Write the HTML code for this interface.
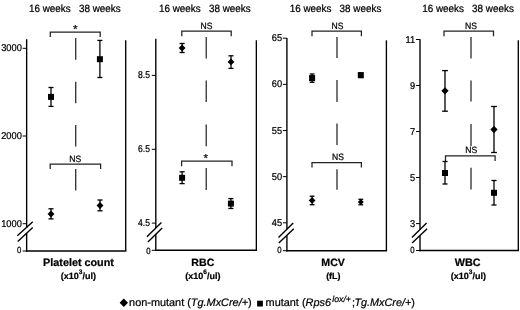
<!DOCTYPE html>
<html><head><meta charset="utf-8"><title>figure</title>
<style>
html,body{margin:0;padding:0;background:#fff;}
svg{display:block;font-family:"Liberation Sans", Arial, sans-serif;fill:#000;will-change:transform;}
text{stroke:#000;stroke-width:0.22px;text-rendering:geometricPrecision;white-space:pre;}
</style></head><body>
<svg width="520" height="310" viewBox="0 0 520 310">
<rect x="0" y="0" width="520" height="310" fill="#fff"/>
<line x1="26.65" y1="39.2" x2="26.65" y2="227.28506493506492" stroke="#000" stroke-width="1.38" />
<line x1="26.65" y1="233.13400000000001" x2="26.65" y2="251.69" stroke="#000" stroke-width="1.38" />
<line x1="25.959999999999997" y1="251.0" x2="126.37" y2="251.0" stroke="#000" stroke-width="1.38" />
<line x1="125.7" y1="40.3" x2="125.7" y2="251.0" stroke="#000" stroke-width="1.35" />
<line x1="22.65" y1="48.3" x2="26.65" y2="48.3" stroke="#000" stroke-width="1.0" />
<text transform="translate(21.85,51.35) scale(1,1.06)" font-size="9.3" text-anchor="end" font-weight="normal" font-style="normal" >3000</text>
<line x1="22.65" y1="136" x2="26.65" y2="136" stroke="#000" stroke-width="1.0" />
<text transform="translate(21.85,139.05) scale(1,1.06)" font-size="9.3" text-anchor="end" font-weight="normal" font-style="normal" >2000</text>
<line x1="22.65" y1="223.7" x2="26.65" y2="223.7" stroke="#000" stroke-width="1.0" />
<text transform="translate(21.85,226.75) scale(1,1.06)" font-size="9.3" text-anchor="end" font-weight="normal" font-style="normal" >1000</text>
<line x1="22.65" y1="251.0" x2="26.65" y2="251.0" stroke="#000" stroke-width="1.0" />
<text transform="translate(21.35,253.0) scale(1,1.15)" font-size="7.8" text-anchor="end" font-weight="normal" font-style="normal" >0</text>
<line x1="17.349999999999998" y1="235.8" x2="32.75" y2="221.7" stroke="#000" stroke-width="1.4" />
<line x1="17.75" y1="241.5" x2="32.75" y2="227.4" stroke="#000" stroke-width="1.4" />
<text transform="translate(74.8,11.9) scale(1,1.06)" font-size="9.9" text-anchor="middle" font-weight="normal" font-style="normal" xml:space="preserve">16 weeks   38 weeks</text>
<text transform="translate(78.5,265.8) scale(1,1.0)" font-size="10.799999999999999" text-anchor="middle" font-weight="bold" font-style="normal" >Platelet count</text>
<text x="78.4" y="278.6" font-size="9" text-anchor="middle" font-weight="bold">(x10<tspan dy="-5" font-size="6.6">3</tspan><tspan dy="5">/ul)</tspan></text>
<line x1="155.8" y1="38.7" x2="155.8" y2="228.04551724137932" stroke="#000" stroke-width="1.38" />
<line x1="155.8" y1="234.2762237762238" x2="155.8" y2="250.99" stroke="#000" stroke-width="1.38" />
<line x1="155.11" y1="250.3" x2="257.02000000000004" y2="250.3" stroke="#000" stroke-width="1.38" />
<line x1="256.35" y1="40.3" x2="256.35" y2="250.3" stroke="#000" stroke-width="1.35" />
<line x1="151.8" y1="75.4" x2="155.8" y2="75.4" stroke="#000" stroke-width="1.0" />
<text transform="translate(149.9,78.45) scale(0.92,1.06)" font-size="9.3" text-anchor="end" font-weight="normal" font-style="normal" >8.5</text>
<line x1="151.8" y1="149.3" x2="155.8" y2="149.3" stroke="#000" stroke-width="1.0" />
<text transform="translate(149.9,152.35) scale(0.92,1.06)" font-size="9.3" text-anchor="end" font-weight="normal" font-style="normal" >6.5</text>
<line x1="151.8" y1="223.1" x2="155.8" y2="223.1" stroke="#000" stroke-width="1.0" />
<text transform="translate(149.9,226.15) scale(0.92,1.06)" font-size="9.3" text-anchor="end" font-weight="normal" font-style="normal" >4.5</text>
<line x1="151.8" y1="250.3" x2="155.8" y2="250.3" stroke="#000" stroke-width="1.0" />
<text transform="translate(150.5,253.6) scale(1,1.15)" font-size="7.8" text-anchor="end" font-weight="normal" font-style="normal" >0</text>
<line x1="146.9" y1="236.7" x2="161.4" y2="222.6" stroke="#000" stroke-width="1.4" />
<line x1="147.9" y1="241.9" x2="162.20000000000002" y2="228.1" stroke="#000" stroke-width="1.4" />
<text transform="translate(204.8,11.9) scale(1,1.06)" font-size="9.9" text-anchor="middle" font-weight="normal" font-style="normal" xml:space="preserve">16 weeks   38 weeks</text>
<text transform="translate(202.8,265.8) scale(1,1.0)" font-size="10.6" text-anchor="middle" font-weight="bold" font-style="normal" >RBC</text>
<text x="202.8" y="278.6" font-size="9" text-anchor="middle" font-weight="bold">(x10<tspan dy="-5" font-size="6.6">6</tspan><tspan dy="5">/ul)</tspan></text>
<line x1="286.9" y1="38.1" x2="286.9" y2="229.27142857142857" stroke="#000" stroke-width="1.38" />
<line x1="286.9" y1="235.278" x2="286.9" y2="251.39" stroke="#000" stroke-width="1.38" />
<line x1="286.21" y1="250.7" x2="387.07" y2="250.7" stroke="#000" stroke-width="1.38" />
<line x1="386.4" y1="40.3" x2="386.4" y2="250.7" stroke="#000" stroke-width="1.35" />
<line x1="282.9" y1="38.2" x2="286.9" y2="38.2" stroke="#000" stroke-width="1.0" />
<text transform="translate(282.1,41.25) scale(1,1.06)" font-size="9.3" text-anchor="end" font-weight="normal" font-style="normal" >65</text>
<line x1="282.9" y1="84.35" x2="286.9" y2="84.35" stroke="#000" stroke-width="1.0" />
<text transform="translate(282.1,87.4) scale(1,1.06)" font-size="9.3" text-anchor="end" font-weight="normal" font-style="normal" >60</text>
<line x1="282.9" y1="130.5" x2="286.9" y2="130.5" stroke="#000" stroke-width="1.0" />
<text transform="translate(282.1,133.55) scale(1,1.06)" font-size="9.3" text-anchor="end" font-weight="normal" font-style="normal" >55</text>
<line x1="282.9" y1="176.65" x2="286.9" y2="176.65" stroke="#000" stroke-width="1.0" />
<text transform="translate(282.1,179.7) scale(1,1.06)" font-size="9.3" text-anchor="end" font-weight="normal" font-style="normal" >50</text>
<line x1="282.9" y1="222.8" x2="286.9" y2="222.8" stroke="#000" stroke-width="1.0" />
<text transform="translate(282.1,225.85) scale(1,1.06)" font-size="9.3" text-anchor="end" font-weight="normal" font-style="normal" >45</text>
<line x1="282.9" y1="250.7" x2="286.9" y2="250.7" stroke="#000" stroke-width="1.0" />
<text transform="translate(281.6,252.6) scale(1,1.15)" font-size="7.8" text-anchor="end" font-weight="normal" font-style="normal" >0</text>
<line x1="278.5" y1="237.5" x2="293.2" y2="223.1" stroke="#000" stroke-width="1.4" />
<line x1="278.79999999999995" y1="243" x2="293.79999999999995" y2="228.7" stroke="#000" stroke-width="1.4" />
<text transform="translate(335.5,11.9) scale(1,1.06)" font-size="9.9" text-anchor="middle" font-weight="normal" font-style="normal" xml:space="preserve">16 weeks   38 weeks</text>
<text transform="translate(333.1,265.8) scale(1,1.0)" font-size="10.6" text-anchor="middle" font-weight="bold" font-style="normal" >MCV</text>
<text transform="translate(333.3,278.6) scale(1,1.0)" font-size="8.9" text-anchor="middle" font-weight="bold" font-style="normal" >(fL)</text>
<line x1="420.0" y1="39.2" x2="420.0" y2="229.565306122449" stroke="#000" stroke-width="1.38" />
<line x1="420.0" y1="235.46866666666665" x2="420.0" y2="251.19" stroke="#000" stroke-width="1.38" />
<line x1="419.31" y1="250.5" x2="518.9699999999999" y2="250.5" stroke="#000" stroke-width="1.38" />
<line x1="518.3" y1="40.3" x2="518.3" y2="250.5" stroke="#000" stroke-width="1.35" />
<line x1="416.0" y1="39.5" x2="420.0" y2="39.5" stroke="#000" stroke-width="1.0" />
<text transform="translate(415.2,42.55) scale(1,1.06)" font-size="9.3" text-anchor="end" font-weight="normal" font-style="normal" >11</text>
<line x1="416.0" y1="85.5" x2="420.0" y2="85.5" stroke="#000" stroke-width="1.0" />
<text transform="translate(415.2,88.55) scale(1,1.06)" font-size="9.3" text-anchor="end" font-weight="normal" font-style="normal" >9</text>
<line x1="416.0" y1="131.5" x2="420.0" y2="131.5" stroke="#000" stroke-width="1.0" />
<text transform="translate(415.2,134.55) scale(1,1.06)" font-size="9.3" text-anchor="end" font-weight="normal" font-style="normal" >7</text>
<line x1="416.0" y1="177.5" x2="420.0" y2="177.5" stroke="#000" stroke-width="1.0" />
<text transform="translate(415.2,180.55) scale(1,1.06)" font-size="9.3" text-anchor="end" font-weight="normal" font-style="normal" >5</text>
<line x1="416.0" y1="223.6" x2="420.0" y2="223.6" stroke="#000" stroke-width="1.0" />
<text transform="translate(415.2,226.65) scale(1,1.06)" font-size="9.3" text-anchor="end" font-weight="normal" font-style="normal" >3</text>
<line x1="416.0" y1="250.5" x2="420.0" y2="250.5" stroke="#000" stroke-width="1.0" />
<text transform="translate(414.7,252.6) scale(1,1.15)" font-size="7.8" text-anchor="end" font-weight="normal" font-style="normal" >0</text>
<line x1="411.9" y1="237.5" x2="426.6" y2="223.1" stroke="#000" stroke-width="1.4" />
<line x1="412.1" y1="243" x2="427.1" y2="228.7" stroke="#000" stroke-width="1.4" />
<text transform="translate(468,11.9) scale(1,1.06)" font-size="9.9" text-anchor="middle" font-weight="normal" font-style="normal" xml:space="preserve">16 weeks   38 weeks</text>
<text transform="translate(467.6,265.8) scale(1,1.0)" font-size="10.799999999999999" text-anchor="middle" font-weight="bold" font-style="normal" >WBC</text>
<text x="468.4" y="278.6" font-size="9" text-anchor="middle" font-weight="bold">(x10<tspan dy="-5" font-size="6.6">3</tspan><tspan dy="5">/ul)</tspan></text>
<line x1="75.75" y1="38" x2="75.75" y2="59.8" stroke-width="1.15" stroke="#111"/><line x1="75.75" y1="81.8" x2="75.75" y2="103.3" stroke-width="1.15" stroke="#111"/><line x1="75.75" y1="125" x2="75.75" y2="146.4" stroke-width="1.15" stroke="#111"/><line x1="75.75" y1="169" x2="75.75" y2="190.6" stroke-width="1.15" stroke="#111"/>
<polyline points="50.3,37.0 50.3,32 100.2,32 100.2,37.0" fill="none" stroke="#222" stroke-width="1.25"/>
<text transform="translate(75.2,32.9) scale(1,1.0)" font-size="11.6" text-anchor="middle" font-weight="normal" font-style="normal" >*</text>
<polyline points="50.2,169.0 50.2,164.0 100.6,164.0 100.6,169.0" fill="none" stroke="#222" stroke-width="1.25"/>
<text transform="translate(75.2,162.2) scale(1,1.07)" font-size="8.6" text-anchor="middle" font-weight="normal" font-style="normal" >NS</text>
<line x1="99.9" y1="40.4" x2="99.9" y2="77.5" stroke="#000" stroke-width="1.3" /><line x1="97.35000000000001" y1="40.4" x2="102.45" y2="40.4" stroke="#000" stroke-width="1.3" /><line x1="97.35000000000001" y1="77.5" x2="102.45" y2="77.5" stroke="#000" stroke-width="1.3" />
<rect x="96.9" y="56.2" width="6" height="6" fill="#000"/>
<line x1="51" y1="87.5" x2="51" y2="106.4" stroke="#000" stroke-width="1.3" /><line x1="48.45" y1="87.5" x2="53.55" y2="87.5" stroke="#000" stroke-width="1.3" /><line x1="48.45" y1="106.4" x2="53.55" y2="106.4" stroke="#000" stroke-width="1.3" />
<rect x="48" y="93.9" width="6" height="6" fill="#000"/>
<line x1="51" y1="208.8" x2="51" y2="218.9" stroke="#000" stroke-width="1.3" /><line x1="48.45" y1="208.8" x2="53.55" y2="208.8" stroke="#000" stroke-width="1.3" /><line x1="48.45" y1="218.9" x2="53.55" y2="218.9" stroke="#000" stroke-width="1.3" />
<polygon points="51,210.55 54.45,214 51,217.45 47.55,214" fill="#000"/>
<line x1="100" y1="200" x2="100" y2="210.8" stroke="#000" stroke-width="1.3" /><line x1="97.45" y1="200" x2="102.55" y2="200" stroke="#000" stroke-width="1.3" /><line x1="97.45" y1="210.8" x2="102.55" y2="210.8" stroke="#000" stroke-width="1.3" />
<polygon points="100,202.05 103.45,205.5 100,208.95 96.55,205.5" fill="#000"/>
<line x1="206.2" y1="37" x2="206.2" y2="58.4" stroke-width="1.15" stroke="#111"/><line x1="206.2" y1="80.5" x2="206.2" y2="102" stroke-width="1.15" stroke="#111"/><line x1="206.2" y1="124.5" x2="206.2" y2="146.2" stroke-width="1.15" stroke="#111"/><line x1="206.2" y1="168" x2="206.2" y2="190" stroke-width="1.15" stroke="#111"/>
<polyline points="181.8,36.2 181.8,31.2 231.2,31.2 231.2,36.2" fill="none" stroke="#222" stroke-width="1.25"/>
<text transform="translate(206.4,28.6) scale(1,1.07)" font-size="8.6" text-anchor="middle" font-weight="normal" font-style="normal" >NS</text>
<polyline points="181.6,166.2 181.6,161.2 232,161.2 232,166.2" fill="none" stroke="#222" stroke-width="1.25"/>
<text transform="translate(205.7,161.9) scale(1,1.0)" font-size="11.6" text-anchor="middle" font-weight="normal" font-style="normal" >*</text>
<line x1="182.1" y1="43.5" x2="182.1" y2="52.5" stroke="#000" stroke-width="1.3" /><line x1="179.54999999999998" y1="43.5" x2="184.65" y2="43.5" stroke="#000" stroke-width="1.3" /><line x1="179.54999999999998" y1="52.5" x2="184.65" y2="52.5" stroke="#000" stroke-width="1.3" />
<polygon points="182.1,44.55 185.54999999999998,48 182.1,51.45 178.65,48" fill="#000"/>
<line x1="231" y1="55.8" x2="231" y2="68.4" stroke="#000" stroke-width="1.3" /><line x1="228.45" y1="55.8" x2="233.55" y2="55.8" stroke="#000" stroke-width="1.3" /><line x1="228.45" y1="68.4" x2="233.55" y2="68.4" stroke="#000" stroke-width="1.3" />
<polygon points="231,58.449999999999996 234.45,61.9 231,65.35 227.55,61.9" fill="#000"/>
<line x1="182.1" y1="171.8" x2="182.1" y2="183.6" stroke="#000" stroke-width="1.3" /><line x1="179.54999999999998" y1="171.8" x2="184.65" y2="171.8" stroke="#000" stroke-width="1.3" /><line x1="179.54999999999998" y1="183.6" x2="184.65" y2="183.6" stroke="#000" stroke-width="1.3" />
<rect x="179.1" y="174.8" width="6" height="6" fill="#000"/>
<line x1="230.9" y1="198.6" x2="230.9" y2="208.5" stroke="#000" stroke-width="1.3" /><line x1="228.35" y1="198.6" x2="233.45000000000002" y2="198.6" stroke="#000" stroke-width="1.3" /><line x1="228.35" y1="208.5" x2="233.45000000000002" y2="208.5" stroke="#000" stroke-width="1.3" />
<rect x="227.9" y="200.6" width="6" height="6" fill="#000"/>
<line x1="337.0" y1="37" x2="337.0" y2="58" stroke-width="1.15" stroke="#111"/><line x1="337.0" y1="80" x2="337.0" y2="102" stroke-width="1.15" stroke="#111"/><line x1="337.0" y1="123.5" x2="337.0" y2="145" stroke-width="1.15" stroke="#111"/><line x1="337.0" y1="169.2" x2="337.0" y2="189.8" stroke-width="1.15" stroke="#111"/>
<polyline points="312,36.2 312,31.2 361.4,31.2 361.4,36.2" fill="none" stroke="#222" stroke-width="1.25"/>
<text transform="translate(337.5,28.6) scale(1,1.07)" font-size="8.6" text-anchor="middle" font-weight="normal" font-style="normal" >NS</text>
<polyline points="312,167.5 312,162.5 361.4,162.5 361.4,167.5" fill="none" stroke="#222" stroke-width="1.25"/>
<text transform="translate(338,159.8) scale(1,1.07)" font-size="8.6" text-anchor="middle" font-weight="normal" font-style="normal" >NS</text>
<line x1="312.1" y1="74.0" x2="312.1" y2="82.3" stroke="#000" stroke-width="1.3" /><line x1="309.70000000000005" y1="74.0" x2="314.5" y2="74.0" stroke="#000" stroke-width="1.3" /><line x1="309.70000000000005" y1="82.3" x2="314.5" y2="82.3" stroke="#000" stroke-width="1.3" />
<rect x="309.1" y="75.1" width="6" height="6" fill="#000"/>
<line x1="360.8" y1="73.2" x2="360.8" y2="77.6" stroke="#000" stroke-width="1.3" /><line x1="358.40000000000003" y1="73.2" x2="363.2" y2="73.2" stroke="#000" stroke-width="1.3" /><line x1="358.40000000000003" y1="77.6" x2="363.2" y2="77.6" stroke="#000" stroke-width="1.3" />
<rect x="357.8" y="72.1" width="6" height="6" fill="#000"/>
<line x1="312.1" y1="196.2" x2="312.1" y2="204.7" stroke="#000" stroke-width="1.3" /><line x1="309.70000000000005" y1="196.2" x2="314.5" y2="196.2" stroke="#000" stroke-width="1.3" /><line x1="309.70000000000005" y1="204.7" x2="314.5" y2="204.7" stroke="#000" stroke-width="1.3" />
<polygon points="312.1,197.0 315.5,200.4 312.1,203.8 308.70000000000005,200.4" fill="#000"/>
<line x1="360.8" y1="199.3" x2="360.8" y2="204.8" stroke="#000" stroke-width="1.3" /><line x1="358.40000000000003" y1="199.3" x2="363.2" y2="199.3" stroke="#000" stroke-width="1.3" /><line x1="358.40000000000003" y1="204.8" x2="363.2" y2="204.8" stroke="#000" stroke-width="1.3" />
<polygon points="360.8,199.0 363.8,202 360.8,205.0 357.8,202" fill="#000"/>
<line x1="471.0" y1="36.9" x2="471.0" y2="58.4" stroke-width="1.15" stroke="#111"/><line x1="471.0" y1="80.5" x2="471.0" y2="101.5" stroke-width="1.15" stroke="#111"/><line x1="471.0" y1="124" x2="471.0" y2="146" stroke-width="1.15" stroke="#111"/><line x1="471.0" y1="167.8" x2="471.0" y2="189.5" stroke-width="1.15" stroke="#111"/>
<polyline points="444,36.2 444,31.2 493.5,31.2 493.5,36.2" fill="none" stroke="#222" stroke-width="1.25"/>
<text transform="translate(471,28.6) scale(1,1.07)" font-size="8.6" text-anchor="middle" font-weight="normal" font-style="normal" >NS</text>
<polyline points="445.5,160.9 445.5,155.9 495.1,155.9 495.1,160.9" fill="none" stroke="#222" stroke-width="1.25"/>
<text transform="translate(471.3,153.4) scale(1,1.07)" font-size="8.6" text-anchor="middle" font-weight="normal" font-style="normal" >NS</text>
<line x1="445" y1="70.6" x2="445" y2="111.2" stroke="#000" stroke-width="1.3" /><line x1="442.1" y1="70.6" x2="447.9" y2="70.6" stroke="#000" stroke-width="1.3" /><line x1="442.1" y1="111.2" x2="447.9" y2="111.2" stroke="#000" stroke-width="1.3" />
<polygon points="445,87.14999999999999 448.65,90.8 445,94.45 441.35,90.8" fill="#000"/>
<line x1="494" y1="106.5" x2="494" y2="152.5" stroke="#000" stroke-width="1.3" /><line x1="491.1" y1="106.5" x2="496.9" y2="106.5" stroke="#000" stroke-width="1.3" /><line x1="491.1" y1="152.5" x2="496.9" y2="152.5" stroke="#000" stroke-width="1.3" />
<polygon points="494,125.85 497.65,129.5 494,133.15 490.35,129.5" fill="#000"/>
<line x1="445" y1="161.5" x2="445" y2="184" stroke="#000" stroke-width="1.3" /><line x1="442.45" y1="161.5" x2="447.55" y2="161.5" stroke="#000" stroke-width="1.3" /><line x1="442.45" y1="184" x2="447.55" y2="184" stroke="#000" stroke-width="1.3" />
<rect x="442" y="170" width="6" height="6" fill="#000"/>
<line x1="494" y1="180.5" x2="494" y2="205" stroke="#000" stroke-width="1.3" /><line x1="491.45" y1="180.5" x2="496.55" y2="180.5" stroke="#000" stroke-width="1.3" /><line x1="491.45" y1="205" x2="496.55" y2="205" stroke="#000" stroke-width="1.3" />
<rect x="491" y="189.8" width="6" height="6" fill="#000"/>
<polygon points="123.8,298.5 128.0,302.7 123.8,306.9 119.6,302.7" fill="#000"/>
<text x="129.1" y="306.2" font-size="10.9" xml:space="preserve">non-mutant (<tspan font-style="italic">Tg.MxCre/+</tspan>)</text>
<rect x="257.1" y="300.70000000000005" width="5.8" height="5.8" fill="#000"/>
<text x="265.6" y="306.2" font-size="10.9" xml:space="preserve">mutant (<tspan font-style="italic">Rps6</tspan></text>
<text x="332.3" y="301.8" font-size="8.7" font-style="italic">lox/+</text>
<text x="351.9" y="306" font-size="10.8" xml:space="preserve">;<tspan x="354.5" font-style="italic">Tg.MxCre/+</tspan>)</text>
</svg>
</body></html>
